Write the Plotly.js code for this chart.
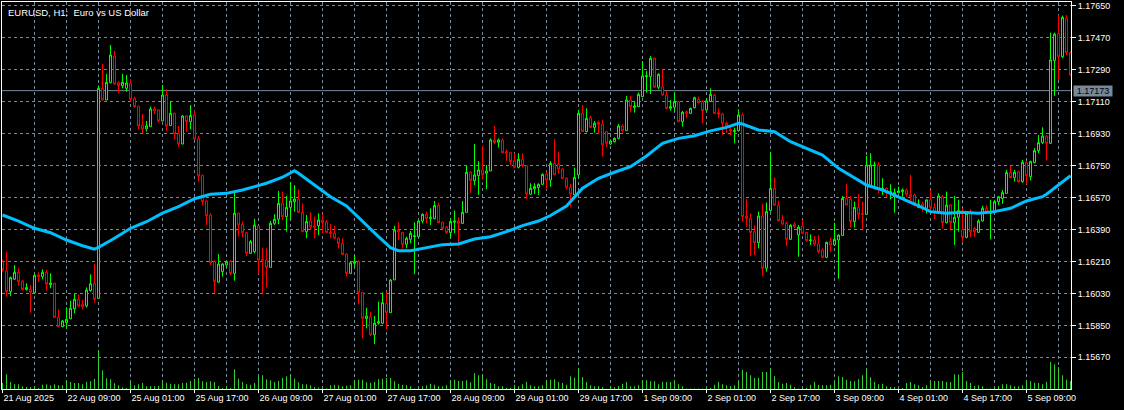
<!DOCTYPE html>
<html>
<head>
<meta charset="utf-8">
<script src="https://cdn.plot.ly/plotly-3.0.1.min.js"></script>
<style>
  html, body { margin: 0; padding: 0; background: #000; }
  #chart { width: 1124px; height: 410px; }
</style>
</head>
<body>
<div id="chart"></div>
<script>
// ---- DATA (EURUSD H1, one bar per hour, weekend hours omitted) ----
const symbolTitle = "EURUSD, H1:  Euro vs US Dollar";
const lastPrice = 1.17173;

const timeLabels = ["21 Aug 2025","22 Aug 09:00","25 Aug 01:00","25 Aug 17:00","26 Aug 09:00",
  "27 Aug 01:00","27 Aug 17:00","28 Aug 09:00","29 Aug 01:00","29 Aug 17:00","1 Sep 09:00",
  "2 Sep 01:00","2 Sep 17:00","3 Sep 09:00","4 Sep 01:00","4 Sep 17:00","5 Sep 09:00"];
const barsPerLabel = 16;
const barsPerGrid = 8;

const priceTicks = [1.15670,1.15850,1.16030,1.16210,1.16390,1.16570,1.16750,1.16930,1.17110,1.17290,1.17470,1.17650];

const open = [
1.16209,1.16157,1.16040,1.16110,1.16149,1.16100,1.16053,1.16053,1.16034,1.16134,
1.16125,1.16149,1.16079,1.16087,1.15895,1.15843,1.15865,1.15888,1.15944,1.15997,
1.15969,1.15959,1.16046,1.16087,1.16002,1.17186,1.17120,1.17218,1.17368,1.17218,
1.17201,1.17186,1.17214,1.17130,1.17086,1.16979,1.16957,1.16970,1.17070,1.17064,
1.17002,1.17148,1.16976,1.17045,1.16932,1.16872,1.17030,1.16998,1.17036,1.16904,
1.16696,1.16551,1.16472,1.16209,1.16093,1.16153,1.16190,1.16209,1.16143,1.16482,
1.16420,1.16372,1.16256,1.16265,1.16410,1.16222,1.16218,1.16177,1.16425,1.16448,
1.16538,1.16463,1.16515,1.16547,1.16562,1.16487,1.16378,1.16438,1.16410,1.16412,
1.16444,1.16433,1.16374,1.16369,1.16341,1.16312,1.16252,1.16143,1.16200,1.16209,
1.16036,1.15888,1.15899,1.15796,1.15862,1.15862,1.15974,1.15922,1.16106,1.16388,
1.16374,1.16307,1.16335,1.16350,1.16350,1.16438,1.16476,1.16451,1.16451,1.16525,
1.16431,1.16403,1.16373,1.16431,1.16438,1.16425,1.16487,1.16713,1.16666,1.16694,
1.16726,1.16707,1.16720,1.16895,1.16882,1.16895,1.16829,1.16825,1.16778,1.16741,
1.16786,1.16750,1.16589,1.16619,1.16626,1.16645,1.16703,1.16669,1.16763,1.16758,
1.16731,1.16679,1.16628,1.16585,1.16698,1.17045,1.16942,1.17021,1.16966,1.16993,
1.16983,1.16942,1.16872,1.16885,1.16904,1.16974,1.16947,1.17120,1.17079,1.17083,
1.17139,1.17252,1.17252,1.17355,1.17192,1.17195,1.17148,1.17073,1.17079,1.17111,
1.16998,1.17054,1.17045,1.17077,1.17124,1.17111,1.17064,1.17111,1.17148,1.17049,
1.17041,1.16989,1.16955,1.16942,1.16947,1.17036,1.16466,1.16453,1.16378,1.16316,
1.16466,1.16172,1.16497,1.16622,1.16528,1.16444,1.16425,1.16335,1.16421,1.16359,
1.16410,1.16374,1.16327,1.16331,1.16309,1.16275,1.16234,1.16322,1.16303,1.16331,
1.16356,1.16566,1.16560,1.16435,1.16515,1.16481,1.16476,1.16632,1.16750,1.16754,
1.16613,1.16622,1.16594,1.16575,1.16598,1.16604,1.16613,1.16589,1.16585,1.16515,
1.16534,1.16510,1.16557,1.16515,1.16487,1.16575,1.16429,1.16528,1.16429,1.16459,
1.16391,1.16346,1.16481,1.16397,1.16374,1.16438,1.16510,1.16481,1.16487,1.16547,
1.16566,1.16594,1.16711,1.16683,1.16716,1.16660,1.16769,1.16688,1.16767,1.16835,
1.16880,1.16917,1.16876,1.17342,1.17496,1.17364,1.17581,1.17387];

const high = [
1.16219,1.16264,1.16125,1.16190,1.16172,1.16106,1.16087,1.16078,1.16138,1.16149,
1.16166,1.16162,1.16143,1.16091,1.15940,1.15880,1.15952,1.15989,1.16031,1.16024,
1.15993,1.16064,1.16138,1.16196,1.17201,1.17323,1.17267,1.17430,1.17396,1.17227,
1.17267,1.17261,1.17237,1.17139,1.17086,1.17041,1.17002,1.17083,1.17083,1.17068,
1.17205,1.17180,1.17115,1.17049,1.16974,1.17036,1.17036,1.17092,1.17060,1.16917,
1.16698,1.16560,1.16482,1.16219,1.16252,1.16200,1.16215,1.16219,1.16598,1.16485,
1.16435,1.16376,1.16331,1.16450,1.16410,1.16288,1.16284,1.16438,1.16476,1.16607,
1.16604,1.16579,1.16658,1.16641,1.16617,1.16538,1.16472,1.16487,1.16463,1.16482,
1.16476,1.16444,1.16421,1.16410,1.16346,1.16341,1.16256,1.16209,1.16247,1.16218,
1.16036,1.15950,1.15927,1.15903,1.15984,1.16036,1.16040,1.16110,1.16410,1.16431,
1.16378,1.16350,1.16382,1.16431,1.16444,1.16482,1.16491,1.16510,1.16551,1.16542,
1.16435,1.16410,1.16453,1.16497,1.16459,1.16551,1.16750,1.16720,1.16872,1.16776,
1.16861,1.16754,1.16904,1.16974,1.16904,1.16904,1.16842,1.16829,1.16820,1.16820,
1.16820,1.16754,1.16651,1.16651,1.16651,1.16707,1.16716,1.16776,1.16900,1.16829,
1.16739,1.16684,1.16647,1.16739,1.17064,1.17092,1.17073,1.17032,1.17002,1.17004,
1.17008,1.16947,1.16899,1.16910,1.16985,1.16983,1.17143,1.17143,1.17115,1.17162,
1.17340,1.17284,1.17368,1.17361,1.17271,1.17293,1.17173,1.17120,1.17163,1.17115,
1.17058,1.17060,1.17077,1.17139,1.17139,1.17120,1.17130,1.17186,1.17154,1.17073,
1.17049,1.16998,1.16976,1.16964,1.17068,1.17049,1.16561,1.16482,1.16416,1.16491,
1.16534,1.16542,1.16825,1.16684,1.16553,1.16472,1.16435,1.16420,1.16431,1.16416,
1.16444,1.16378,1.16363,1.16354,1.16359,1.16284,1.16322,1.16344,1.16429,1.16363,
1.16579,1.16647,1.16579,1.16547,1.16590,1.16547,1.16805,1.16820,1.16773,1.16769,
1.16679,1.16628,1.16645,1.16622,1.16632,1.16622,1.16622,1.16698,1.16594,1.16560,
1.16547,1.16560,1.16613,1.16538,1.16594,1.16585,1.16604,1.16534,1.16579,1.16557,
1.16510,1.16491,1.16504,1.16406,1.16448,1.16523,1.16528,1.16557,1.16557,1.16579,
1.16613,1.16726,1.16748,1.16726,1.16722,1.16782,1.16776,1.16778,1.16849,1.16923,
1.16966,1.16923,1.17500,1.17500,1.17599,1.17596,1.17599,1.17393];

const low = [
1.16153,1.16012,1.16016,1.16106,1.16072,1.16046,1.16046,1.15922,1.16031,1.16096,
1.16110,1.16046,1.16059,1.15892,1.15839,1.15839,1.15833,1.15884,1.15918,1.15955,
1.15940,1.15950,1.16040,1.15978,1.15999,1.17117,1.17120,1.17214,1.17210,1.17158,
1.17186,1.17167,1.17111,1.17077,1.16955,1.16932,1.16942,1.16970,1.17041,1.16993,
1.17002,1.16947,1.16974,1.16899,1.16857,1.16872,1.16942,1.16955,1.16895,1.16660,
1.16528,1.16416,1.16190,1.16031,1.16091,1.16125,1.16175,1.16132,1.16102,1.16350,
1.16346,1.16241,1.16252,1.16256,1.16140,1.16025,1.16063,1.16177,1.16416,1.16420,
1.16444,1.16378,1.16444,1.16491,1.16487,1.16378,1.16341,1.16388,1.16341,1.16359,
1.16370,1.16373,1.16341,1.16337,1.16284,1.16250,1.16125,1.16140,1.16181,1.15969,
1.15777,1.15833,1.15790,1.15745,1.15854,1.15857,1.15828,1.15922,1.16106,1.16331,
1.16284,1.16284,1.16312,1.16140,1.16350,1.16425,1.16425,1.16416,1.16448,1.16429,
1.16391,1.16365,1.16341,1.16369,1.16294,1.16421,1.16487,1.16598,1.16641,1.16585,
1.16673,1.16617,1.16720,1.16872,1.16852,1.16820,1.16778,1.16754,1.16735,1.16735,
1.16741,1.16562,1.16585,1.16590,1.16585,1.16641,1.16613,1.16632,1.16698,1.16703,
1.16673,1.16617,1.16515,1.16575,1.16679,1.16942,1.16938,1.16964,1.16936,1.16929,
1.16801,1.16854,1.16867,1.16880,1.16899,1.16936,1.16947,1.17049,1.17049,1.17083,
1.17135,1.17162,1.17154,1.17192,1.17180,1.17143,1.17068,1.17060,1.17060,1.16998,
1.16970,1.17017,1.17041,1.17073,1.17101,1.16989,1.17060,1.17111,1.17041,1.17017,
1.16923,1.16936,1.16923,1.16876,1.16942,1.16435,1.16406,1.16241,1.16247,1.16284,
1.16128,1.16153,1.16491,1.16523,1.16435,1.16416,1.16297,1.16331,1.16397,1.16237,
1.16363,1.16322,1.16303,1.16297,1.16256,1.16228,1.16228,1.16265,1.16297,1.16113,
1.16356,1.16528,1.16401,1.16401,1.16448,1.16388,1.16472,1.16628,1.16622,1.16594,
1.16585,1.16575,1.16560,1.16485,1.16594,1.16575,1.16575,1.16547,1.16519,1.16510,
1.16491,1.16481,1.16487,1.16448,1.16485,1.16397,1.16425,1.16391,1.16303,1.16378,
1.16322,1.16341,1.16346,1.16350,1.16373,1.16435,1.16481,1.16335,1.16481,1.16528,
1.16534,1.16590,1.16679,1.16660,1.16654,1.16654,1.16645,1.16666,1.16763,1.16820,
1.16872,1.16778,1.16872,1.17143,1.17233,1.17355,1.17374,1.17256];

const close = [
1.16162,1.16040,1.16119,1.16149,1.16096,1.16053,1.16063,1.16036,1.16132,1.16125,
1.16149,1.16083,1.16089,1.15895,1.15843,1.15875,1.15884,1.15946,1.15997,1.15959,
1.15955,1.16049,1.16085,1.15997,1.17186,1.17120,1.17220,1.17374,1.17210,1.17201,
1.17220,1.17216,1.17124,1.17083,1.16974,1.16957,1.16974,1.17070,1.17058,1.17002,
1.17148,1.16974,1.17045,1.16929,1.16872,1.17030,1.16998,1.17032,1.16899,1.16692,
1.16547,1.16468,1.16203,1.16096,1.16196,1.16196,1.16209,1.16143,1.16482,1.16416,
1.16372,1.16256,1.16322,1.16416,1.16218,1.16218,1.16177,1.16425,1.16448,1.16538,
1.16463,1.16515,1.16551,1.16562,1.16487,1.16378,1.16435,1.16406,1.16403,1.16444,
1.16429,1.16374,1.16369,1.16341,1.16312,1.16250,1.16143,1.16203,1.16209,1.16036,
1.15890,1.15903,1.15796,1.15862,1.15871,1.15978,1.15922,1.16106,1.16388,1.16378,
1.16307,1.16341,1.16369,1.16354,1.16438,1.16476,1.16453,1.16459,1.16525,1.16429,
1.16397,1.16374,1.16435,1.16438,1.16425,1.16487,1.16713,1.16666,1.16698,1.16726,
1.16698,1.16720,1.16895,1.16880,1.16895,1.16823,1.16820,1.16773,1.16741,1.16786,
1.16750,1.16590,1.16622,1.16632,1.16645,1.16701,1.16669,1.16763,1.16698,1.16730,
1.16679,1.16628,1.16590,1.16684,1.17045,1.16942,1.17017,1.16966,1.16989,1.16983,
1.16867,1.16876,1.16889,1.16904,1.16974,1.16947,1.17120,1.17083,1.17086,1.17152,
1.17256,1.17256,1.17355,1.17192,1.17265,1.17148,1.17073,1.17083,1.17111,1.16998,
1.17051,1.17045,1.17073,1.17133,1.17105,1.17060,1.17115,1.17152,1.17045,1.17041,
1.16989,1.16974,1.16947,1.16947,1.17036,1.16463,1.16453,1.16373,1.16316,1.16466,
1.16172,1.16491,1.16622,1.16528,1.16440,1.16421,1.16335,1.16414,1.16406,1.16403,
1.16369,1.16327,1.16331,1.16309,1.16265,1.16234,1.16318,1.16303,1.16335,1.16359,
1.16566,1.16528,1.16435,1.16515,1.16476,1.16476,1.16754,1.16754,1.16754,1.16617,
1.16622,1.16598,1.16604,1.16598,1.16607,1.16613,1.16589,1.16575,1.16538,1.16534,
1.16519,1.16557,1.16513,1.16487,1.16579,1.16429,1.16528,1.16429,1.16459,1.16497,
1.16346,1.16481,1.16378,1.16378,1.16438,1.16510,1.16490,1.16491,1.16547,1.16575,
1.16598,1.16711,1.16683,1.16713,1.16660,1.16769,1.16694,1.16773,1.16835,1.16880,
1.16917,1.16876,1.17346,1.17492,1.17364,1.17586,1.17387,1.17261];

// tick volume per bar
const volume = [
1500,3680,1750,1180,1180,680,500,500,680,250,
1080,1180,930,1180,930,930,2180,1750,1500,1500,
1180,1750,1930,2500,9680,4680,2680,2430,1430,930,
430,250,2000,930,1180,1500,680,680,680,750,
2000,1580,1330,1180,1180,1500,1580,2000,2580,2750,
1930,1750,1930,1750,750,250,680,250,4930,2580,
1750,1180,1080,1500,3180,3430,2430,2180,1750,2000,
2750,3180,3580,2580,1680,1180,1180,930,500,330,
500,130,930,1080,930,680,830,930,2180,2330,
2330,1680,1580,1750,2430,2580,2750,2750,1930,1330,
1080,930,680,130,80,680,930,1330,1080,680,
680,930,2080,2330,2000,2000,2180,1680,3930,3430,
3580,2430,1500,1330,680,680,330,250,1080,680,
1180,1750,930,680,680,930,2180,2330,2430,1750,
1500,1080,3180,2830,5250,3000,1750,930,680,680,
500,80,680,500,750,1330,1750,680,680,930,
2250,2180,1930,1930,1180,1750,1750,1750,2180,1180,
680,130,130,130,130,130,250,250,1080,1750,
1180,930,750,930,1930,4830,4250,3430,2750,2830,
4250,4250,5250,3180,1750,1330,1500,1080,500,130,
130,330,1080,1750,1080,930,930,1080,1930,3180,
3000,2330,2000,1930,2430,3430,5080,2930,1750,1180,
1330,680,500,500,130,250,1500,1750,1180,930,
500,930,2000,2000,2000,2000,1750,1750,3680,3580,
4250,2000,1500,750,930,680,130,130,250,680,
1180,1180,930,680,680,930,2180,1930,1580,1500,
1180,1750,6750,6180,5500,3430,2330,2000];

// moving average read at sample bars
const maBar = [0,4,8,12,16,20,23,24,28,32,36,40,44,48,52,56,60,62,66,70,
  73,74,78,82,86,90,94,97,98,99,102,106,110,114,118,122,126,130,134,137,
  141,145,149,153,157,161,165,169,173,177,181,184,185,189,193,197,201,205,209,212,
  216,220,224,228,232,236,240,244,248,252,256,260,261,264,267];
const maValue = [1.16472,1.16438,1.16397,1.16372,1.16331,1.16299,1.16280,1.16290,1.16341,1.16397,
  1.16434,1.16482,1.16519,1.16564,1.16589,1.16594,1.16613,1.16626,1.16651,1.16685,
  1.16722,1.16707,1.16641,1.16575,1.16523,1.16434,1.16350,1.16288,1.16279,1.16271,
  1.16271,1.16288,1.16305,1.16309,1.16337,1.16350,1.16378,1.16412,1.16438,1.16469,
  1.16523,1.16623,1.16679,1.16713,1.16744,1.16805,1.16876,1.16904,1.16919,1.16946,
  1.16966,1.16989,1.16985,1.16951,1.16942,1.16885,1.16848,1.16810,1.16735,1.16694,
  1.16641,1.16613,1.16575,1.16534,1.16491,1.16482,1.16487,1.16482,1.16491,1.16510,
  1.16551,1.16575,1.16589,1.16641,1.16694];

// ---- BUILD ----
const bars = open.map((_, i) => i);
const labelBars = timeLabels.map((_, k) => k * barsPerLabel);
const gridBars = [];
for (let b = barsPerGrid; b < bars.length; b += barsPerLabel) gridBars.push(b);

const GRID = '#778899';
const FONT = 'Liberation Sans, Arial, sans-serif';

const traces = [
  {
    type: 'bar', x: bars, y: volume, yaxis: 'y2',
    width: 0.25, marker: { color: '#32CD32', line: { width: 0 } },
    hoverinfo: 'skip', showlegend: false
  },
  {
    type: 'candlestick', x: bars, open: open, high: high, low: low, close: close,
    increasing: { line: { color: '#00FF00', width: 1 }, fillcolor: '#000000' },
    decreasing: { line: { color: '#FF0000', width: 1 }, fillcolor: '#000000' },
    whiskerwidth: 0, hoverinfo: 'skip', showlegend: false
  },
  {
    type: 'scatter', mode: 'lines', x: maBar, y: maValue,
    line: { color: '#00BFFF', width: 3 },
    hoverinfo: 'skip', showlegend: false
  }
];

const layout = {
  width: 1124, height: 410,
  margin: { l: 2, r: 53, t: 2, b: 21, pad: 0 },
  paper_bgcolor: '#000000', plot_bgcolor: '#000000',
  showlegend: false, hovermode: false,
  boxgap: 0.5, boxgroupgap: 0,
  font: { family: FONT, size: 9, color: '#ffffff' },
  xaxis: {
    range: [-0.125, 267.125], fixedrange: true,
    rangeslider: { visible: false },
    tickmode: 'array', tickvals: labelBars, ticktext: timeLabels,
    ticks: 'outside', ticklen: 3, tickcolor: '#ffffff', tickwidth: 1,
    ticklabelposition: 'outside right',
    tickfont: { family: FONT, size: 9, color: '#ffffff' },
    showgrid: true, gridcolor: GRID, gridwidth: 1, griddash: '3px,3px',
    minor: { tickmode: 'array', tickvals: gridBars, showgrid: true, gridcolor: GRID,
             gridwidth: 1, griddash: '3px,3px', ticks: '' },
    showline: true, linecolor: '#ffffff', linewidth: 1, mirror: true,
    zeroline: false
  },
  yaxis: {
    side: 'right',
    range: [1.154914, 1.176725], fixedrange: true,
    tickmode: 'array', tickvals: priceTicks, tickformat: '.5f',
    ticks: 'outside', ticklen: 4, tickcolor: '#ffffff', tickwidth: 1,
    tickfont: { family: FONT, size: 9, color: '#ffffff' },
    showgrid: true, gridcolor: GRID, gridwidth: 1, griddash: '3px,3px',
    showline: true, linecolor: '#ffffff', linewidth: 1, mirror: true,
    zeroline: false
  },
  yaxis2: {
    overlaying: 'y', side: 'right', range: [0, 96750], visible: false,
    showgrid: false, zeroline: false, fixedrange: true
  },
  shapes: [
    { type: 'line', xref: 'paper', x0: 0, x1: 1, yref: 'y', y0: lastPrice, y1: lastPrice,
      line: { color: GRID, width: 1 }, layer: 'below' }
  ],
  annotations: [
    { xref: 'paper', yref: 'paper', x: 0, y: 1, xanchor: 'left', yanchor: 'top',
      xshift: 4, yshift: -3, showarrow: false, text: symbolTitle,
      font: { family: FONT, size: 9.5, color: '#ffffff' } },
    { xref: 'paper', yref: 'y', x: 1, y: lastPrice, xanchor: 'left', yanchor: 'middle',
      xshift: 2, showarrow: false, text: lastPrice.toFixed(5),
      bgcolor: GRID, borderpad: 0, width: 38, height: 10, align: 'center',
      font: { family: FONT, size: 9, color: '#000000' } }
  ]
};

Plotly.newPlot('chart', traces, layout, { staticPlot: true, displayModeBar: false });
</script>
</body>
</html>
